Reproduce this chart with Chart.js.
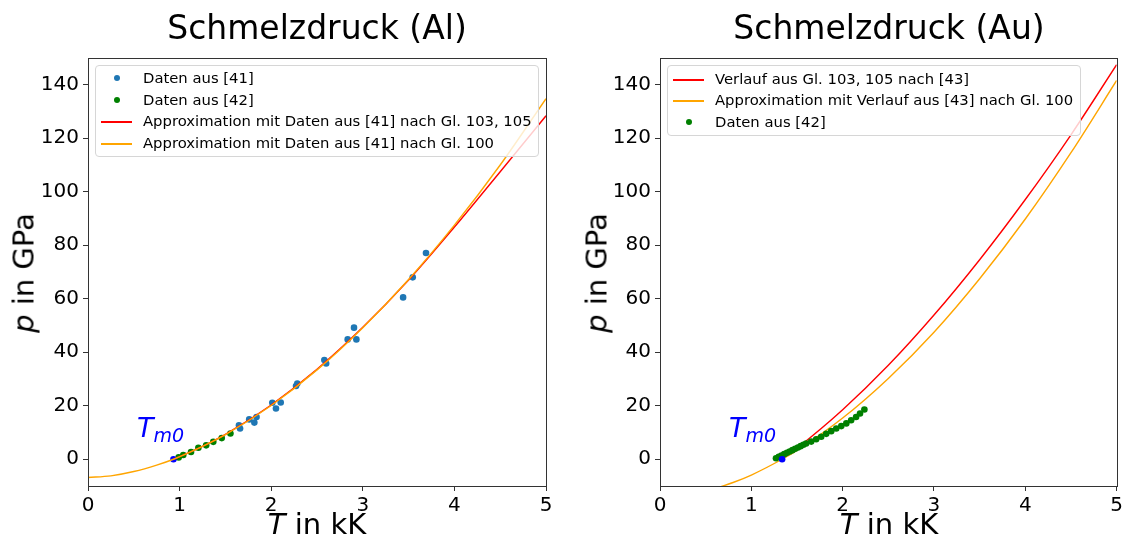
<!DOCTYPE html>
<html><head><meta charset="utf-8">
<script src="https://cdn.jsdelivr.net/npm/chart.js@4/dist/chart.umd.min.js"></script>
<style>
body{margin:0;background:#fff;width:1126px;height:539px;overflow:hidden;position:relative;font-family:"DejaVu Sans",sans-serif;color:#000;}
canvas{position:absolute;top:0;}
.t{position:absolute;white-space:nowrap;transform:translate(-50%,-50%);line-height:1;}
.ttl{font-size:33px;}
.xl{font-size:29px;}
.yl{font-size:29px;transform:translate(-50%,-50%) rotate(-90deg);}
.tm{position:absolute;color:#0000ff;white-space:nowrap;line-height:1;font-style:italic;}
.tm .a{font-size:27px;}
.tm .b{font-size:19px;position:relative;top:5px;}
.leg{position:absolute;border:1px solid #d6d6d6;border-radius:4px;background:rgba(255,255,255,0.8);box-sizing:border-box;}
.row{position:absolute;left:0;height:20px;font-size:14.8px;line-height:20px;white-space:nowrap;}
.row .txt{position:absolute;left:47px;top:0;}
.row .ln{position:absolute;left:5px;top:10px;width:31px;height:0;border-top-width:2px;border-top-style:solid;}
.row .dot{position:absolute;left:18px;top:7px;width:6px;height:6px;border-radius:50%;}
</style></head>
<body>
<canvas id="c1" width="563" height="539" style="left:0"></canvas>
<canvas id="c2" width="563" height="539" style="left:563px"></canvas>

<div class="t ttl" style="left:317px;top:27px">Schmelzdruck (Al)</div>
<div class="t ttl" style="left:889px;top:27px">Schmelzdruck (Au)</div>
<div class="t xl" style="left:317px;top:524px"><i>T</i> in kK</div>
<div class="t xl" style="left:889px;top:524px"><i>T</i> in kK</div>
<div class="t yl" style="left:24px;top:273px"><i>p</i> in GPa</div>
<div class="t yl" style="left:597px;top:273px"><i>p</i> in GPa</div>
<div class="tm" style="left:137px;top:414px"><span class="a">T</span><span class="b">m0</span></div>
<div class="tm" style="left:729px;top:414px"><span class="a">T</span><span class="b">m0</span></div>

<div id="leg1" class="leg" style="left:95px;top:65px;width:444px;height:92px"></div>
<div id="leg2" class="leg" style="left:667px;top:65px;width:414px;height:71px"></div>

<script>
// ---- tick values ----
const xTickVals = [0, 1, 2, 3, 4, 5];
const yTickVals = [0, 20, 40, 60, 80, 100, 120, 140];

// ---- Al (left) ----
const alT41 = [1.648, 1.66, 1.76, 1.816, 1.84, 2.012, 2.052, 2.104, 2.271, 2.285, 2.58, 2.60, 2.835, 2.904, 2.93, 3.44, 3.545, 3.69];
const alP41 = [12.7, 11.5, 14.9, 13.7, 15.8, 21.1, 19.0, 21.2, 27.4, 28.3, 37.1, 35.8, 44.8, 49.2, 44.8, 60.5, 68.0, 77.1];
const alT42 = [0.99, 1.04, 1.125, 1.205, 1.29, 1.368, 1.46, 1.555];
const alP42 = [0.7, 1.6, 2.7, 4.3, 5.2, 6.5, 7.9, 9.6];
const alTm0 = [0.933];
const alPm0 = [0];
const alRedT = [0.933, 1.25, 1.5, 2.0, 2.5, 3.0, 3.5, 4.0, 4.5, 5.0];
const alRedP = [0, 4.8, 9.3, 20.3, 33.6, 49.3, 67.0, 86.8, 107.5, 128.4];
const alOrT = [0, 0.25, 0.5, 0.75, 0.933, 1.25, 1.5, 2.0, 2.5, 3.0, 3.5, 4.0, 4.5, 5.0];
const alOrP = [-6.8, -6.2, -4.6, -2.2, 0, 4.8, 9.2, 20.1, 33.4, 49.2, 67.2, 87.5, 110.0, 134.8];
const alLabels = ["Daten aus [41]", "Daten aus [42]", "Approximation mit Daten aus [41] nach Gl. 103, 105", "Approximation mit Daten aus [41] nach Gl. 100"];

// ---- Au (right) ----
const auRedT = [1.337, 1.5, 2.0, 2.5, 3.0, 3.5, 4.0, 4.5, 5.0];
const auRedP = [0, 4.1, 18.5, 35.1, 53.9, 74.6, 97.1, 121.3, 147.5];
const auOrT = [0.6, 0.8, 1.0, 1.337, 1.5, 2.0, 2.5, 3.0, 3.5, 4.0, 4.5, 5.0];
const auOrP = [-11.0, -8.7, -5.9, 0, 3.3, 15.4, 30.2, 47.5, 67.5, 89.8, 114.6, 141.6];
const auT42 = [1.27, 1.30, 1.33, 1.36, 1.39, 1.42, 1.45, 1.48, 1.51, 1.54, 1.57, 1.60, 1.656, 1.71, 1.765, 1.82, 1.875, 1.93, 1.985, 2.04, 2.093, 2.147, 2.19, 2.238];
const auP42 = [0.4, 0.9, 1.4, 1.9, 2.4, 2.9, 3.4, 3.9, 4.4, 4.9, 5.4, 5.9, 6.6, 7.5, 8.4, 9.5, 10.5, 11.5, 12.4, 13.4, 14.6, 15.8, 17.1, 18.6];
const auTm0 = [1.337];
const auPm0 = [0];
const auLabels = ["Verlauf aus Gl. 103, 105 nach [43]", "Approximation mit Verlauf aus [43] nach Gl. 100", "Daten aus [42]"];

const C_BLUE = '#1f77b4', C_GREEN = '#008000', C_RED = '#ff0000', C_ORANGE = '#ffa500', C_PURE = '#0000ff';

function pts(xs, ys) { return xs.map((x, i) => ({x: x, y: ys[i]})); }
function dots(label, xs, ys, color, order) {
  return {label, data: pts(xs, ys), showLine: false, pointRadius: 3.3, pointHoverRadius: 3.3,
    pointBackgroundColor: color, pointBorderColor: color, pointBorderWidth: 0, order};
}
function line(label, xs, ys, color, order) {
  return {label, data: pts(xs, ys), showLine: true, pointRadius: 0, borderColor: color, borderWidth: 1.4,
    backgroundColor: color, cubicInterpolationMode: 'monotone', fill: false, order};
}

const frame = {
  id: 'frame',
  afterDraw(chart) {
    const a = chart.chartArea, ctx = chart.ctx;
    ctx.save(); ctx.strokeStyle = '#333'; ctx.lineWidth = 1;
    ctx.strokeRect(Math.round(a.left) + 0.5, Math.round(a.top) + 0.5, Math.round(a.right - a.left), Math.round(a.bottom - a.top));
    ctx.restore();
  }
};

function makeOptions(yWidth, padRight) {
  const tickFont = {family: 'DejaVu Sans', size: 20};
  return {
    responsive: false, animation: false, events: [],
    layout: {padding: {left: 0, top: 58, right: padRight, bottom: 0}},
    plugins: {legend: {display: false}, tooltip: {enabled: false}, title: {display: false}},
    scales: {
      x: {type: 'linear', min: 0, max: 5,
        afterBuildTicks: s => { s.ticks = xTickVals.map(v => ({value: v})); },
        afterFit: s => { s.height = 53; },
        ticks: {font: tickFont, color: '#000', padding: 3, maxRotation: 0, autoSkip: false},
        grid: {display: true, drawOnChartArea: false, drawTicks: true, tickLength: 5, color: '#333', lineWidth: 1},
        border: {display: true, color: '#333', width: 1}},
      y: {type: 'linear', min: -10, max: 150,
        afterBuildTicks: s => { s.ticks = yTickVals.map(v => ({value: v})); },
        afterFit: s => { s.width = yWidth; },
        ticks: {font: tickFont, color: '#000', padding: 4, autoSkip: false},
        grid: {display: true, drawOnChartArea: false, drawTicks: true, tickLength: 5, color: '#333', lineWidth: 1},
        border: {display: true, color: '#333', width: 1}}
    }
  };
}

new Chart(document.getElementById('c1'), {
  type: 'scatter',
  data: {datasets: [
    dots(alLabels[0], alT41, alP41, C_BLUE, 6),
    dots(alLabels[1], alT42, alP42, C_GREEN, 5),
    dots('Tm0', alTm0, alPm0, C_PURE, 4),
    line(alLabels[2], alRedT, alRedP, C_RED, 2),
    line(alLabels[3], alOrT, alOrP, C_ORANGE, 1)
  ]},
  options: makeOptions(88, 17),
  plugins: [frame]
});

new Chart(document.getElementById('c2'), {
  type: 'scatter',
  data: {datasets: [
    line(auLabels[0], auRedT, auRedP, C_RED, 6),
    line(auLabels[1], auOrT, auOrP, C_ORANGE, 5),
    dots(auLabels[2], auT42, auP42, C_GREEN, 2),
    dots('Tm0', auTm0, auPm0, C_PURE, 1)
  ]},
  options: makeOptions(97, 8),
  plugins: [frame]
});

function buildLegend(id, entries, rowTops) {
  const el = document.getElementById(id);
  entries.forEach((e, i) => {
    const r = document.createElement('div');
    r.className = 'row';
    r.style.top = rowTops[i] + 'px';
    const h = document.createElement('div');
    if (e.kind === 'dot') { h.className = 'dot'; h.style.backgroundColor = e.color; }
    else { h.className = 'ln'; h.style.borderTopColor = e.color; }
    r.appendChild(h);
    const t = document.createElement('div');
    t.className = 'txt'; t.textContent = e.label;
    r.appendChild(t);
    el.appendChild(r);
  });
}
buildLegend('leg1', [
  {label: alLabels[0], color: C_BLUE, kind: 'dot'},
  {label: alLabels[1], color: C_GREEN, kind: 'dot'},
  {label: alLabels[2], color: C_RED, kind: 'line'},
  {label: alLabels[3], color: C_ORANGE, kind: 'line'}
], [2, 24, 45, 67]);
buildLegend('leg2', [
  {label: auLabels[0], color: C_RED, kind: 'line'},
  {label: auLabels[1], color: C_ORANGE, kind: 'line'},
  {label: auLabels[2], color: C_GREEN, kind: 'dot'}
], [3, 24, 46]);
</script>
</body></html>
